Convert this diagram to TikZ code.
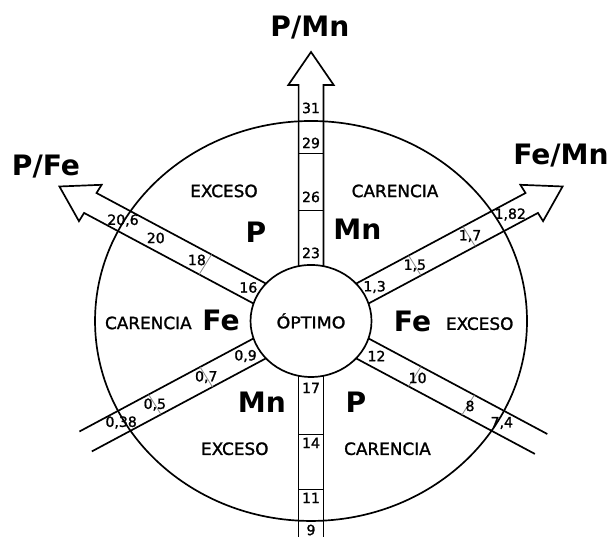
\documentclass[tikz,border=0pt]{standalone}
\usepackage{fontspec}
\setmainfont{DejaVu Sans}
\newfontfamily\semibf[FakeBold=1.4]{DejaVu Sans}

\tikzset{
  band/.style={line width=1.2pt, line join=miter},
  rung/.style={line width=0.6pt},
  val/.style={inner sep=0pt, font=\semibf\fontsize{10}{12}\selectfont},
  zone/.style={inner sep=0pt, font=\semibf\fontsize{12}{14}\selectfont},
  elem/.style={inner sep=0pt, font=\fontsize{20}{24}\selectfont\bfseries},
  ratio/.style={inner sep=0pt, font=\fontsize{20}{24}\selectfont\bfseries}
}

\begin{document}
\begin{tikzpicture}[x=0.025cm, y=0.025cm, xscale=1.08]
\useasboundingbox (-288,-216) rectangle (278.7,321);

% outer circle
\draw[band] (0,0) circle (200);

% strips with arrow heads
\foreach \a in {90,30,150}
  \draw[band, rotate=\a] (45,-11.5) -- (236,-11.5) -- (236,-21) -- (269,0) -- (236,21) -- (236,11.5) -- (45,11.5);
% open strips
\foreach \a/\e in {270/220, 210/241, 330/246}
  \draw[band, rotate=\a] (45,-11.5) -- (\e,-11.5) (45,11.5) -- (\e,11.5);

% rungs
\foreach \a/\d/\c in {90/111/black, 90/168/black, 270/113/black, 270/168/black,
                      30/111/black!45, 30/169/black!45, 150/113/black!45,
                      210/112/black!45, 210/167/black!45, 330/111/black!45, 330/168/black!45}
  \draw[rung, draw=\c, rotate=\a] (\d,-11.5) -- (\d,11.5);

\node[draw, circle, fill=white, line width=1.2pt, minimum size=2.8cm, transform shape,
      font=\semibf\fontsize{11.5}{14}\selectfont] (optimo) at (0,0) {ÓPTIMO};

% values along the strips
\foreach \a/\d/\t [count=\i] in {90/213/31, 90/178/29, 90/124/26, 90/68/23,
    270/67/17, 270/122/14, 270/177/11, 270/209/9,
    30/68/{1,3}, 30/111/{1,5}, 30/170/{1,7}, 30/213/{1,82},
    150/67/16, 150/122/18, 150/166/20, 150/201/{20,6},
    210/70/{0,9}, 210/112/{0,7}, 210/167/{0,5}, 210/203/{0,38},
    330/70/12, 330/114/10, 330/170/8, 330/204/{7,4}}
  \node[val] (v\i) at (\a:\d) {\t};

% ratio names
\node[ratio] (pmn) at (-1,293) {P/Mn};
\node[ratio] (pfe) at (-245.4,154) {P/Fe};
\node[ratio] (femn) at (231.5,165) {Fe/Mn};

% sectors
\node[zone] (exc1) at (-80.6,130) {EXCESO};
\node[elem] (p1) at (-50.9,89) {P};
\node[zone] (car1) at (77.8,130) {CARENCIA};
\node[elem] (mn1) at (43,92) {Mn};
\node[zone] (car2) at (-150.6,-2) {CARENCIA};
\node[elem] (fe1) at (-83.3,1) {Fe};
\node[elem] (fe2) at (94,0) {Fe};
\node[zone] (exc2) at (156.2,-2.7) {EXCESO};
\node[elem] (mn2) at (-45.6,-81.5) {Mn};
\node[elem] (p2) at (41.5,-81.5) {P};
\node[zone] (exc3) at (-70.6,-127.8) {EXCESO};
\node[zone] (car3) at (70.8,-127.8) {CARENCIA};
\end{tikzpicture}
\end{document}
